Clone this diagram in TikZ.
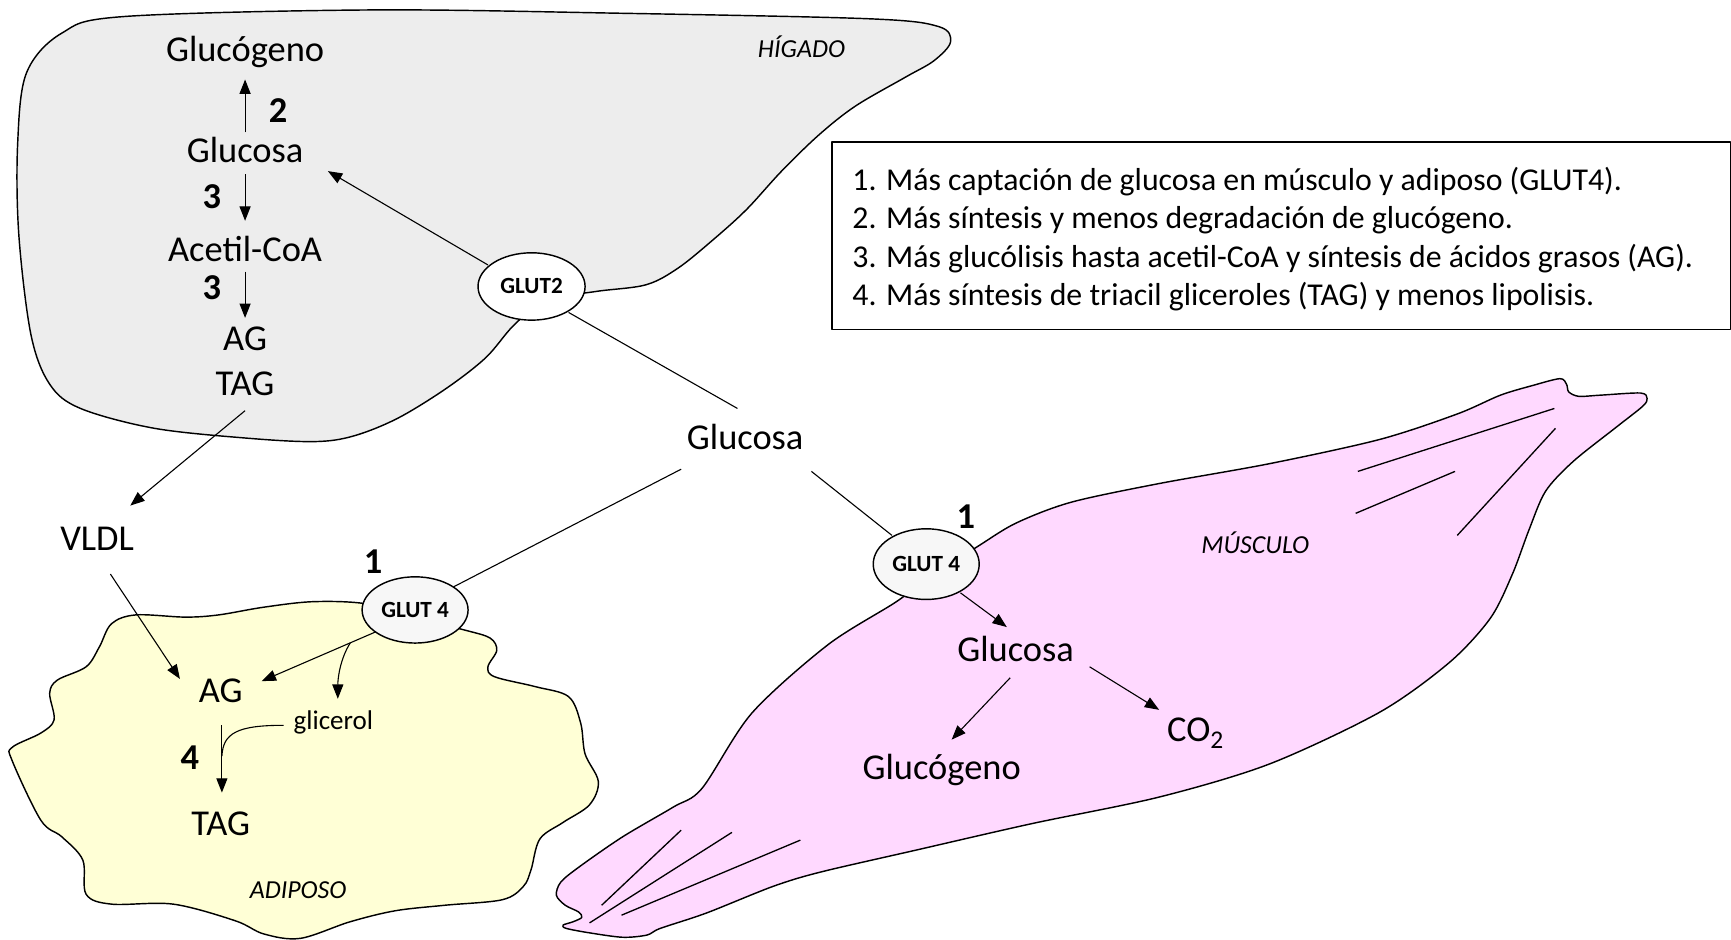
\documentclass[tikz,border=0pt]{standalone}
\usepackage{fontspec}
\setmainfont{Carlito}
\usetikzlibrary{arrows.meta,calc,shapes.geometric}

\definecolor{liverfill}{RGB}{237,237,237}
\definecolor{fatfill}{RGB}{255,255,214}
\definecolor{musclefill}{RGB}{255,217,255}
\definecolor{glutfill}{RGB}{247,247,247}

\begin{document}
\begin{tikzpicture}[x=1pt,y=-1pt,line join=round,
  every node/.style={inner sep=0pt},
  lab/.style={font=\fontsize{33}{40}\selectfont, text height=24pt, text depth=7pt},
  small/.style={font=\fontsize{24.5}{30}\selectfont, text height=18pt, text depth=5pt},
  num/.style={font=\fontsize{33}{40}\selectfont\bfseries},
  organ/.style={font=\fontsize{23.5}{28}\selectfont\itshape},
  legtxt/.style={font=\fontsize{28.8}{34}\selectfont, anchor=base west},
  glut/.style={ellipse, draw, line width=1.3pt, fill=white,
    font=\fontsize{21}{25}\selectfont\bfseries},
  organline/.style={draw=black, line width=1.3pt},
  arr/.style={line width=1pt, -{Triangle[length=13pt,width=10pt]}},
  link/.style={line width=1pt},
  fibre/.style={line width=1.2pt}]

\useasboundingbox (0,0) rectangle (1568,851);

% liver
\path[organline, fill=liverfill] plot[smooth cycle, tension=0.55] coordinates {
  (16,130) (24,66) (56,30) (112,15) (337,9) (562,12) (787,17) (850,24)
  (861,38) (846,55) (820,70) (775,96) (742,122) (708,155) (676,190)
  (645,218) (614,243) (585,258) (540,264) (495,272) (466,294) (440,324)
  (404,352) (360,379) (320,395) (285,400) (225,397) (140,388) (73,370)
  (45,348) (28,303) (17,212)};

% adipose tissue
\path[organline, fill=fatfill] plot[smooth cycle, tension=0.55] coordinates {
  (101,565) (123,557) (168,559) (198,557) (239,550) (284,545) (332,547)
  (377,560) (422,571) (444,578) (450,589) (442,604) (448,613) (485,622)
  (515,631) (526,655) (530,683) (542,708) (534,729) (510,745) (489,760)
  (481,788) (474,803) (455,815) (403,820) (358,825) (317,835) (272,850)
  (239,846) (213,834) (157,819) (101,819) (78,810) (75,779) (56,758)
  (37,743) (11,689) (11,677) (37,664) (49,652) (45,628) (52,616) (78,604)
  (90,586)};

% muscle
\path[organline, fill=musclefill] plot[smooth cycle, tension=0.5] coordinates {
  (884,496) (920,474) (970,455) (1050,438) (1150,420) (1250,398)
  (1320,375) (1359,358) (1389,349) (1413,343) (1419,348) (1421,355)
  (1430,359) (1449,358) (1486,356) (1492,361) (1488,368) (1464,387)
  (1425,418) (1400,445) (1385,480) (1370,520) (1350,560) (1313,600)
  (1250,645) (1150,692) (1050,722) (935,746) (830,770) (743,790)
  (700,803) (640,827) (598,841) (586,847) (564,849) (534,845) (513,841)
  (510,838) (519,835) (527,831) (524,826) (512,820) (504,811) (508,799)
  (525,785) (564,758) (610,731) (636,714) (681,646) (750,584) (812,545)
  (845,520)};

% muscle fibres
\draw[fibre] (1230,427) -- (1408,370);
\draw[fibre] (1228,465) -- (1318,427);
\draw[fibre] (1320,485) -- (1409,388);
\draw[fibre] (545,820) -- (617,752);
\draw[fibre] (534,836) -- (663,754);
\draw[fibre] (563,829) -- (725,761);

% transporters
\node[glut, minimum width=97pt, minimum height=61pt] (glut2) at (481.5,259.5) {GLUT2};
\node[glut, fill=glutfill, minimum width=96pt, minimum height=60pt] (glutA) at (376,552.5) {GLUT 4};
\node[glut, fill=glutfill, minimum width=96pt, minimum height=64pt] (glutM) at (839,511) {GLUT 4};

% tissue names
\node[organ] (higado) at (726,42) {HÍGADO};
\node[organ] (musculo) at (1137,492) {MÚSCULO};
\node[organ] (adiposo) at (270,806) {ADIPOSO};

% liver metabolites
\node[lab] (lGly) at (222,47) {Glucógeno};
\node[lab] (lGlc) at (222,139) {Glucosa};
\node[lab] (lAcc) at (222,228) {Acetil-CoA};
\node[lab] (lAG) at (222,309) {AG};
\node[lab] (lTAG) at (222,350) {TAG};
\node[lab] (vldl) at (88,490) {VLDL};
\node[lab] (blood) at (675,399) {Glucosa};

% adipose metabolites
\node[lab] (aAG) at (200,628) {AG};
\node[lab] (aTAG) at (200,748) {TAG};
\node[small] (glic) at (302,654) {glicerol};

% muscle metabolites
\node[lab] (mGlc) at (920,591) {Glucosa};
\node[lab] (mGly) at (853,698) {Glucógeno};
\node[lab] (co2) at (1083,663) {CO\textsubscript{2}};

% step numbers
\node[num] (n2) at (252,100) {2};
\node[num] (n3a) at (192,178) {3};
\node[num] (n3b) at (192,261) {3};
\node[num] (n1a) at (338,509) {1};
\node[num] (n4) at (172,686) {4};
\node[num] (n1m) at (875,468) {1};

% liver pathway
\draw[arr] ($(lGlc)+(0,-19)$) -- ($(lGly)+(0,25)$);
\draw[arr] ($(lGlc)+(0,19)$) -- ($(lAcc)+(0,-28)$);
\draw[arr] ($(lAcc)+(0,18)$) -- ($(lAG)+(0,-21)$);
\draw[arr] ($(lTAG)+(0,22)$) -- ($(vldl)+(30,-32)$);
\draw[arr] ($(glut2)+(-39.5,-19.5)$) -- ($(lGlc)+(75,16)$);

% blood glucose to the transporters
\draw[link] ($(glut2)+(33.5,23.5)$) -- ($(blood)+(-7,-29)$);
\draw[link] ($(blood)+(-58,26)$) -- ($(glutA)+(35,-21)$);
\draw[link] ($(blood)+(60,28)$) -- ($(glutM)+(-31,-26)$);

% adipose pathway
\draw[arr] ($(vldl)+(12,30)$) -- ($(aAG)+(-37,-13)$);
\draw[arr] ($(glutA)+(-36,20)$) -- coordinate[pos=0.22] (gbr) ($(aAG)+(37,-11)$);
\draw[arr] (gbr) .. controls ($(gbr)+(-9,14)$) and ($(glic)+(4,-40)$) .. ($(glic)+(4,-21)$);
\draw[arr] ($(aAG)+(1,29)$) -- ($(aTAG)+(1,-30)$);
\draw[link] ($(glic)+(-45,3)$) .. controls ($(glic)+(-87,3)$) and ($(aAG)+(2,36)$) .. ($(aAG)+(1,57)$);

% muscle pathway
\draw[arr] ($(glutM)+(31,26)$) -- ($(mGlc)+(-8,-23)$);
\draw[arr] ($(mGlc)+(-5,23)$) -- ($(mGly)+(9,-28)$);
\draw[arr] ($(mGlc)+(67,13)$) -- ($(co2)+(-33,-20)$);

% legend
\node[draw, line width=1.2pt, anchor=north west, minimum width=814pt, minimum height=170pt] (legend) at (753,128) {};
\node[legtxt] (l1) at ($(legend.north west)+(19,45)$) {1. Más captación de glucosa en músculo y adiposo (GLUT4).};
\node[legtxt] (l2) at ($(legend.north west)+(19,79)$) {2. Más síntesis y menos degradación de glucógeno.};
\node[legtxt] (l3) at ($(legend.north west)+(19,114)$) {3. Más glucólisis hasta acetil-CoA y síntesis de ácidos grasos (AG).};
\node[legtxt] (l4) at ($(legend.north west)+(19,149)$) {4. Más síntesis de triacil gliceroles (TAG) y menos lipolisis.};
\end{tikzpicture}
\end{document}
